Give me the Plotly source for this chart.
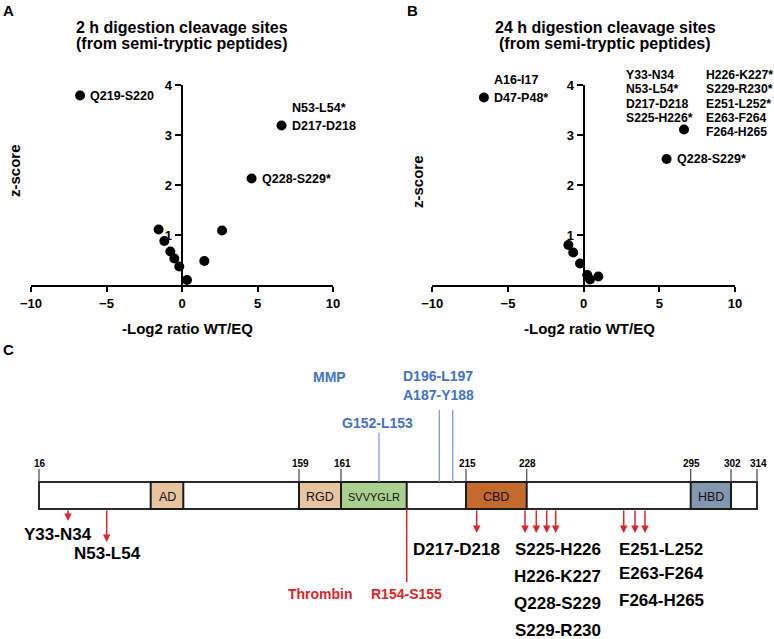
import plotly.graph_objects as go

# ---------------- DATA ----------------
# Panel A: 2 h digestion
a_x = [-6.75, 6.59, 4.61, -1.55, 2.65, -1.17, -0.77, -0.51, -0.18, 0.33, 1.48]
a_y = [3.79, 3.19, 2.13, 1.11, 1.09, 0.88, 0.67, 0.53, 0.37, 0.10, 0.48]
# labels attached to points (point index, text lines from top)
a_labels = [(0, ["Q219-S220"]), (1, ["N53-L54*", "D217-D218"]), (2, ["Q228-S229*"])]

# Panel B: 24 h digestion
b_x = [-6.59, 6.63, 5.48, -1.01, -0.69, -0.24, 0.24, 0.42, 0.97]
b_y = [3.75, 3.11, 2.52, 0.80, 0.65, 0.43, 0.20, 0.11, 0.17]
b_labels = [(0, ["A16-I17", "D47-P48*"]), (2, ["Q228-S229*"])]
b_cluster_col1 = ["Y33-N34", "N53-L54*", "D217-D218", "S225-H226*"]
b_cluster_col2 = ["H226-K227*", "S229-R230*", "E251-L252*", "E263-F264", "F264-H265"]

x_ticks = [-10, -5, 0, 5, 10]
y_ticks = [1, 2, 3, 4]

# Panel C: domain schematic
boundary_labels = ["16", "159", "161", "215", "228", "295", "302", "314"]
domain_names = ["AD", "RGD", "SVVYGLR", "CBD", "HBD"]
mmp_sites = ["G152-L153", "A187-Y188", "D196-L197"]
thrombin_sites = ["R154-S155"]
cleave_left = ["Y33-N34", "N53-L54"]
cleave_d217 = ["D217-D218"]
cleave_s = ["S225-H226", "H226-K227", "Q228-S229", "S229-R230"]
cleave_e = ["E251-L252", "E263-F264", "F264-H265"]

# ---------------- LAYOUT / SCHEMATIC GEOMETRY ----------------
W, H = 774, 639
FONT = "Arial, Liberation Sans, sans-serif"
BLUE_T = "#4472C4"
BLUE_L = "#7F9CD6"
RED = "#D9262B"

# schematic x positions (diagram units) of boundaries
bx = [39, 299, 341, 466, 526.7, 690.7, 731, 757]
bar_top, bar_bot = 482, 509
domain_geom = {  # name: (x0, x1, fill, font size)
    "AD": (150.7, 183.3, "#E8C3A0", 12.5),
    "RGD": (299, 341, "#E8C3A0", 12.5),
    "SVVYGLR": (341, 406.7, "#A9D08E", 11),
    "CBD": (466, 526.7, "#C46A2D", 12.5),
    "HBD": (690.7, 731, "#8497B0", 12.5),
}
mmp_geom = {"G152-L153": (379, 432.7, 377, 422.7),
            "A187-Y188": (452.7, 410, 438, 395),
            "D196-L197": (439.3, 410, 437.5, 375.7)}

fig = go.Figure()

# ---- Panels A and B scatter
fig.add_trace(go.Scatter(x=a_x, y=a_y, mode="markers", xaxis="x", yaxis="y",
                         marker=dict(color="black", size=10), cliponaxis=False,
                         hoverinfo="skip", showlegend=False))
fig.add_trace(go.Scatter(x=b_x, y=b_y, mode="markers", xaxis="x2", yaxis="y2",
                         marker=dict(color="black", size=10), cliponaxis=False,
                         hoverinfo="skip", showlegend=False))
fig.add_trace(go.Scatter(x=[], y=[], xaxis="x3", yaxis="y3", showlegend=False))

ydom = [1 - 285 / H, 1 - 85 / H]
axis_common = dict(showline=True, linewidth=2, linecolor="black", ticks="outside",
                   tickwidth=2, tickcolor="black", showgrid=False, zeroline=False,
                   automargin=False,
                   tickfont=dict(family=FONT, size=13, color="black", weight="bold"))

ann = []
shapes = []


def txt(x, y, s, size, color="black", xanchor="center", bold=True, xref="paper",
        yref="paper", xshift=0, yshift=0, textangle=0):
    ann.append(dict(x=x, y=y, xref=xref, yref=yref, text=s, showarrow=False,
                    xanchor=xanchor, yanchor="middle", xshift=xshift, yshift=yshift,
                    textangle=textangle,
                    font=dict(family=FONT, size=size, color=color,
                              weight="bold" if bold else "normal")))


def px(xp, yp):
    return xp / W, 1 - yp / H


fig.update_layout(
    template="none",
    xaxis=dict(domain=[31 / W, 333 / W], range=[-10, 10], tickvals=x_ticks, ticklen=5,
               anchor="y", **axis_common),
    yaxis=dict(domain=ydom, range=[0, 4], tickvals=y_ticks, ticklen=6, anchor="free",
               position=181.7 / W, **axis_common),
    xaxis2=dict(domain=[432.3 / W, 735 / W], range=[-10, 10], tickvals=x_ticks, ticklen=5,
                anchor="y2", **axis_common),
    yaxis2=dict(domain=ydom, range=[0, 4], tickvals=y_ticks, ticklen=6, anchor="free",
                position=583.7 / W, **axis_common),
    xaxis3=dict(domain=[0, 1], range=[0, W], visible=False, anchor="y3", fixedrange=True,
                automargin=False),
    yaxis3=dict(domain=[0, 1], range=[H, 0], visible=False, anchor="x3", fixedrange=True,
                automargin=False),
)

# titles
for cx, lines in [(182, ["2 h digestion cleavage sites", "(from semi-tryptic peptides)"]),
                  (605, ["24 h digestion cleavage sites", "(from semi-tryptic peptides)"])]:
    for i, l in enumerate(lines):
        txt(*px(cx, 28 + 15.5 * i), l, 16)

# panel letters
txt(*px(8, 10), "A", 15)
txt(*px(412, 10), "B", 15)
txt(*px(8, 349), "C", 15)

# axis titles
txt(*px(187, 328), "-Log2 ratio WT/EQ", 15)
txt(*px(589, 328), "-Log2 ratio WT/EQ", 15)
txt(*px(15, 171), "z-score", 15, textangle=-90)
txt(*px(417, 181), "z-score", 15, textangle=-90)

# point labels
LINE = 18
for xs, ys, labs, xr, yr in [(a_x, a_y, a_labels, "x", "y"), (b_x, b_y, b_labels, "x2", "y2")]:
    for idx, lines in labs:
        n = len(lines)
        for i, l in enumerate(lines):
            txt(xs[idx], ys[idx], l, 12.5, xanchor="left", xref=xr, yref=yr,
                xshift=8, yshift=(n - 1 - i) * LINE)

# cluster labels in B attached to point 1
for col, xsh in [(b_cluster_col1, -60), (b_cluster_col2, 19.5)]:
    for i, l in enumerate(col):
        txt(b_x[1], b_y[1], l, 12.2, xanchor="left", xref="x2", yref="y2",
            xshift=xsh, yshift=54.5 - 14.3 * i)

# ---- Panel C schematic
X3 = dict(xref="x3", yref="y3")
shapes.append(dict(type="rect", x0=bx[0], x1=bx[-1], y0=bar_top, y1=bar_bot,
                   fillcolor="white", line=dict(color="#2b2b2b", width=2), **X3))
for name in domain_names:
    x0, x1, col, fs = domain_geom[name]
    shapes.append(dict(type="rect", x0=x0, x1=x1, y0=bar_top, y1=bar_bot,
                       fillcolor=col, line=dict(color="#1a1a1a", width=2), **X3))
    txt((x0 + x1) / 2, (bar_top + bar_bot) / 2 + 1, name, fs, color="#111111",
        bold=False, xref="x3", yref="y3")

for lab, x in zip(boundary_labels, bx):
    shapes.append(dict(type="line", x0=x, x1=x, y0=469, y1=bar_top,
                       line=dict(color="#444444", width=1.2), **X3))
    txt(x + 1, 463, lab, 10, xref="x3", yref="y3")

# MMP
txt(329, 377, "MMP", 14, color=BLUE_T, xref="x3", yref="y3")
for s in mmp_sites:
    lx, ly0, tx, ty = mmp_geom[s]
    shapes.append(dict(type="line", x0=lx, x1=lx, y0=ly0, y1=bar_top,
                       line=dict(color=BLUE_L, width=1.3), **X3))
    txt(tx, ty, s, 14, color=BLUE_T, xref="x3", yref="y3")

# Thrombin
shapes.append(dict(type="line", x0=406.7, x1=406.7, y0=bar_bot, y1=582,
                   line=dict(color=RED, width=1.5), **X3))
txt(320, 594, "Thrombin", 14, color=RED, xref="x3", yref="y3")
txt(406, 594, thrombin_sites[0], 14, color=RED, xref="x3", yref="y3")

# cleavage arrows
arrows = [(68, 521), (106.7, 542), (476.7, 533), (525, 533), (536.3, 533), (546.7, 533),
          (555.7, 533), (623.7, 533), (635, 533), (645, 533)]
for ax_, tip in arrows:
    ann.append(dict(x=ax_, y=tip, ax=ax_, ay=bar_bot, xref="x3", yref="y3", axref="x3",
                    ayref="y3", text="", showarrow=True, arrowhead=2, arrowsize=1.0,
                    arrowwidth=1.5, arrowcolor=RED))

txt(57.5, 534, cleave_left[0], 17, xref="x3", yref="y3")
txt(107, 553, cleave_left[1], 17, xref="x3", yref="y3")
txt(456, 549, cleave_d217[0], 17, xref="x3", yref="y3")
for l, y in zip(cleave_s, [549, 576.5, 603.5, 630.5]):
    txt(557.5, y, l, 17, xref="x3", yref="y3")
for l, y in zip(cleave_e, [549, 573.3, 600]):
    txt(661, y, l, 17, xref="x3", yref="y3")

fig.update_layout(width=W, height=H,
                  margin=dict(l=0, r=0, t=0, b=0, pad=0, autoexpand=False),
                  paper_bgcolor="white", plot_bgcolor="rgba(0,0,0,0)",
                  annotations=ann, shapes=shapes, showlegend=False,
                  font=dict(family=FONT))

fig.write_html("out.html", config={"displayModeBar": False, "staticPlot": True},
               post_script="document.body.style.margin='0px';document.body.style.overflow='hidden';")
